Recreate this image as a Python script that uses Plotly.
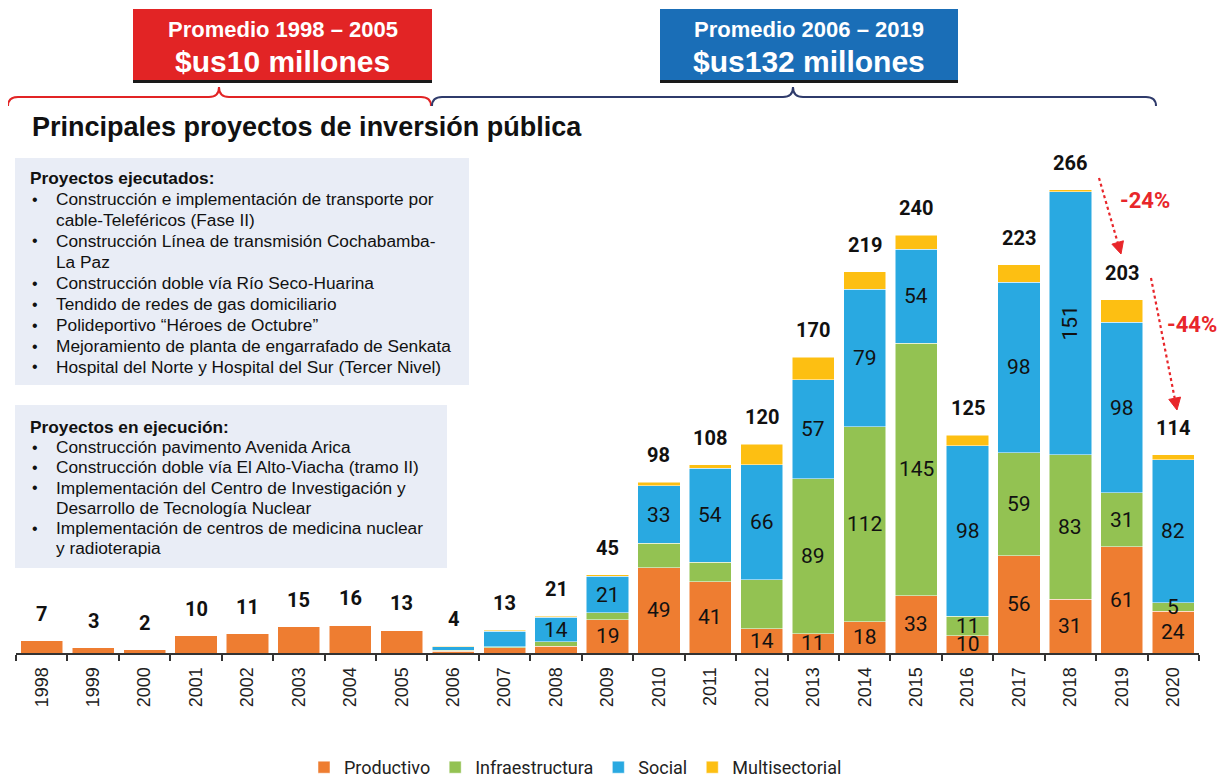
import plotly.graph_objects as go

# ---------------- data ----------------
years = [str(y) for y in range(1998, 2021)]
productivo = [7, 3, 2, 10, 11, 15, 16, 13, 1, 3, 4, 19, 49, 41, 14, 11, 18, 33, 10, 56, 31, 61, 24]
infraestructura = [0, 0, 0, 0, 0, 0, 0, 0, 0.5, 0.5, 2.5, 4, 14, 11, 28, 89, 112, 145, 11, 59, 83, 31, 5]
social = [0, 0, 0, 0, 0, 0, 0, 0, 2, 9, 14, 21, 33, 54, 66, 57, 79, 54, 98, 98, 151, 98, 82]
multisectorial = [0, 0, 0, 0, 0, 0, 0, 0, 0.5, 0.5, 0.5, 1, 2, 2, 12, 13, 10, 8, 6, 10, 1, 13, 3]
totales = [7, 3, 2, 10, 11, 15, 16, 13, 4, 13, 21, 45, 98, 108, 120, 170, 219, 240, 125, 223, 266, 203, 114]

# labels drawn inside the segments ('' = no label)
lbl_productivo = [''] * 11 + ['19', '49', '41', '14', '11', '18', '33', '10', '56', '31', '61', '24']
lbl_infraestructura = [''] * 15 + ['89', '112', '145', '11', '59', '83', '31', '5']
lbl_social = [''] * 10 + ['14', '21', '33', '54', '66', '57', '79', '54', '98', '98', '151', '98', '82']
lbl_multisectorial = [''] * 23
rotated_labels = {('Social', '2018')}

series_names = ['Productivo', 'Infraestructura', 'Social', 'Multisectorial']

promedio_1 = ['Promedio 1998 – 2005', '$us10 millones']
promedio_2 = ['Promedio 2006 – 2019', '$us132 millones']
titulo = 'Principales proyectos de inversión pública'

panel1_header = 'Proyectos ejecutados:'
panel1_lines = [
    ('•', 'Construcción e implementación de transporte por'),
    ('', 'cable-Teleféricos (Fase II)'),
    ('•', 'Construcción Línea de transmisión Cochabamba-'),
    ('', 'La Paz'),
    ('•', 'Construcción doble vía Río Seco-Huarina'),
    ('•', 'Tendido de redes de gas domiciliario'),
    ('•', 'Polideportivo “Héroes de Octubre”'),
    ('•', 'Mejoramiento de planta de engarrafado de Senkata'),
    ('•', 'Hospital del Norte y Hospital del Sur (Tercer Nivel)'),
]
panel2_header = 'Proyectos en ejecución:'
panel2_lines = [
    ('•', 'Construcción pavimento Avenida Arica'),
    ('•', 'Construcción doble vía El Alto-Viacha (tramo II)'),
    ('•', 'Implementación del Centro de Investigación y'),
    ('', 'Desarrollo de Tecnología Nuclear'),
    ('•', 'Implementación de centros de medicina nuclear'),
    ('', 'y radioterapia'),
]
variaciones = ['-24%', '-44%']

# ---------------- style / layout ----------------
OFF = 8                      # page body margin seen in the screenshot
W, H = 1230 - OFF, 774 - OFF
ML, MR, MT, MB = 8, 31, 0, 121
PW = W - ML - MR
PH = H - MT - MB
PX_PER_UNIT = 1.741

def px(x):
    """screen pixel x -> paper x"""
    return (x - OFF - ML) / PW

def py(y):
    """screen pixel y -> paper y"""
    return (H - MB - (y - OFF)) / PH

colors = {
    'Productivo': '#EE7D31',
    'Infraestructura': '#93C252',
    'Social': '#29A9E1',
    'Multisectorial': '#FDBF12',
}
values = {
    'Productivo': productivo,
    'Infraestructura': infraestructura,
    'Social': social,
    'Multisectorial': multisectorial,
}
labels = {
    'Productivo': lbl_productivo,
    'Infraestructura': lbl_infraestructura,
    'Social': lbl_social,
    'Multisectorial': lbl_multisectorial,
}

SANS = 'Liberation Sans, Arial, sans-serif'
ROBOTO = 'Roboto, Arial, sans-serif'

fig = go.Figure()
for name in series_names:
    fig.add_trace(go.Bar(
        x=years, y=values[name], name=name,
        marker=dict(color=colors[name], line=dict(color='white', width=0.5)),
    ))

annotations = []
shapes = []

# segment labels (x given as category index)
base = [0.0] * len(years)
for name in series_names:
    vals = values[name]
    for i, yr in enumerate(years):
        t = labels[name][i]
        if t:
            annotations.append(dict(
                x=i, y=base[i] + vals[i] / 2, xref='x', yref='y', text=t, showarrow=False,
                textangle=-90 if (name, yr) in rotated_labels else 0,
                font=dict(family=ROBOTO, size=21, color='#111111'),
                xanchor='center', yanchor='middle'))
    base = [b + v for b, v in zip(base, vals)]

# totals
for i, tot in enumerate(totales):
    annotations.append(dict(
        x=i, y=tot, xref='x', yref='y', text=str(tot), showarrow=False, yshift=27,
        font=dict(family=ROBOTO, size=20, color='#111111', weight='bold'),
        xanchor='center', yanchor='middle'))

# header boxes
for (x0, x1, col, txt) in [(133, 432, '#E22425', promedio_1), (660, 958, '#1A6EB7', promedio_2)]:
    shapes.append(dict(type='rect', xref='paper', yref='paper', x0=px(x0), x1=px(x1),
                       y0=py(81), y1=py(9), fillcolor=col, line=dict(width=0), layer='above'))
    shapes.append(dict(type='line', xref='paper', yref='paper', x0=px(x0), x1=px(x1),
                       y0=py(81.5), y1=py(81.5), line=dict(color='#1a1a1a', width=3), layer='above'))
    annotations.append(dict(x=px((x0 + x1) / 2), y=py(29), xref='paper', yref='paper', text=txt[0],
                            showarrow=False, font=dict(family=SANS, size=22, color='white', weight='bold'),
                            xanchor='center', yanchor='middle'))
    annotations.append(dict(x=px((x0 + x1) / 2), y=py(62), xref='paper', yref='paper', text=txt[1],
                            showarrow=False, font=dict(family=SANS, size=30, color='white', weight='bold'),
                            xanchor='center', yanchor='middle'))

# braces
def brace(x0, xm, x1, ytop, yline, yend):
    pts = [
        ('M', [(x0, yend)]),
        ('Q', [(x0, yline), (x0 + 10, yline)]),
        ('L', [(xm - 10, yline)]),
        ('Q', [(xm, yline), (xm, ytop)]),
        ('Q', [(xm, yline), (xm + 10, yline)]),
        ('L', [(x1 - 10, yline)]),
        ('Q', [(x1, yline), (x1, yend)]),
    ]
    s = ''
    for cmd, ps in pts:
        s += cmd + ' ' + ' '.join('%.5f,%.5f' % (px(a), py(b)) for a, b in ps) + ' '
    return s.strip()

shapes.append(dict(type='path', xref='paper', yref='paper', path=brace(8, 219, 431, 87, 97, 106),
                   line=dict(color='#E22425', width=2)))
shapes.append(dict(type='path', xref='paper', yref='paper', path=brace(432, 793, 1156, 87, 97, 106),
                   line=dict(color='#2F3B6B', width=2)))

# title
annotations.append(dict(x=px(30), y=py(127), xref='paper', yref='paper', text=titulo, showarrow=False,
                        font=dict(family=SANS, size=27, color='#111111', weight='bold'),
                        xanchor='left', yanchor='middle'))

# panels
def panel(x0, x1, y0, y1, header, lines, y_first, dy):
    shapes.append(dict(type='rect', xref='paper', yref='paper', x0=px(x0), x1=px(x1),
                       y0=py(y1), y1=py(y0), fillcolor='#E9EDF6', line=dict(width=0), layer='below'))
    annotations.append(dict(x=px(28), y=py(y_first), xref='paper', yref='paper', text=header,
                            showarrow=False, font=dict(family=SANS, size=17.3, color='#111111', weight='bold'),
                            xanchor='left', yanchor='middle'))
    for k, (b, t) in enumerate(lines):
        yy = y_first + dy * (k + 1)
        if b:
            annotations.append(dict(x=px(30), y=py(yy), xref='paper', yref='paper', text=b,
                                    showarrow=False, font=dict(family=SANS, size=16, color='#111111'),
                                    xanchor='left', yanchor='middle'))
        annotations.append(dict(x=px(54), y=py(yy), xref='paper', yref='paper', text=t,
                                showarrow=False, font=dict(family=SANS, size=17.3, color='#111111'),
                                xanchor='left', yanchor='middle'))

panel(15, 469, 158, 385, panel1_header, panel1_lines, 178, 21)
panel(15, 447, 405, 568, panel2_header, panel2_lines, 427, 20.2)

# dotted arrows with labels
RED = '#E8262A'
for (xa, ya, xb, yb), txt, (tx, ty) in zip(
        [(1099, 178, 1121, 254), (1151, 278, 1177, 410)], variaciones, [(1145, 201), (1192, 324)]):
    dx, dy_ = xb - xa, yb - ya
    L = (dx ** 2 + dy_ ** 2) ** 0.5
    ux, uy = dx / L, dy_ / L
    bx, by = xb - 12 * ux, yb - 12 * uy
    shapes.append(dict(type='line', xref='paper', yref='paper', x0=px(xa), y0=py(ya), x1=px(bx), y1=py(by),
                       line=dict(color=RED, width=2.2, dash='dot')))
    p1 = (bx - 6 * uy, by + 6 * ux)
    p2 = (bx + 6 * uy, by - 6 * ux)
    path = 'M %.5f,%.5f L %.5f,%.5f L %.5f,%.5f Z' % (px(xb), py(yb), px(p1[0]), py(p1[1]), px(p2[0]), py(p2[1]))
    shapes.append(dict(type='path', xref='paper', yref='paper', path=path, fillcolor=RED,
                       line=dict(color=RED, width=1)))
    annotations.append(dict(x=px(tx), y=py(ty), xref='paper', yref='paper', text=txt, showarrow=False,
                            font=dict(family=ROBOTO, size=22, color=RED, weight='bold'),
                            xanchor='center', yanchor='middle'))

fig.update_layout(
    barmode='stack', bargap=0.18,
    width=W, height=H,
    margin=dict(l=ML, r=MR, t=MT, b=MB, autoexpand=False),
    plot_bgcolor='white', paper_bgcolor='white',
    showlegend=True,
    legend=dict(orientation='h', x=px(304), xanchor='left', y=py(749), yanchor='top',
                traceorder='normal', font=dict(family=ROBOTO, size=18, color='#222222'),
                itemwidth=30, bgcolor='rgba(0,0,0,0)'),
    annotations=annotations, shapes=shapes,
)
fig.update_yaxes(range=[0, PH / PX_PER_UNIT], visible=False, fixedrange=True)
fig.update_xaxes(type='category', range=[-0.5, len(years) - 0.5], tickson='boundaries', ticks='outside',
                 ticklen=6, tickwidth=1.5, tickcolor='#333333', showline=True, linecolor='#333333',
                 linewidth=2, tickangle=-90, tickfont=dict(family=SANS, size=18, color='#222222'),
                 showgrid=False, ticklabelstandoff=5)

fig.write_html('out.html')
